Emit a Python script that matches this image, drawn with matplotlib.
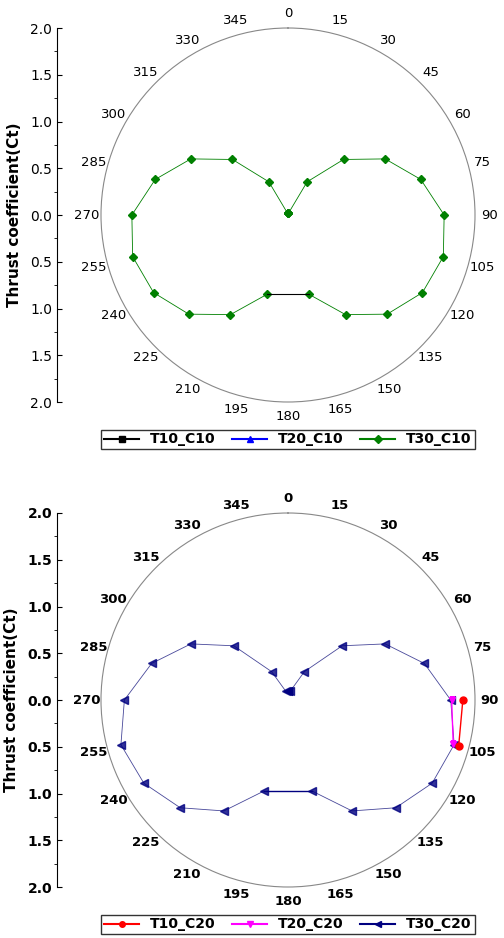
import numpy as np
import matplotlib.pyplot as plt
from matplotlib.ticker import MultipleLocator, FuncFormatter

# angles in degrees, clockwise from top
angles = list(range(0, 360, 15))

# top chart: T30_C10 (180 missing)
t30_c10 = [0.02, 0.02, 0.41, 0.84, 1.20, 1.47, 1.67, 1.72, 1.66, 1.50, 1.23, 0.88,
           np.nan, 0.88, 1.23, 1.50, 1.66, 1.72, 1.67, 1.47, 1.20, 0.84, 0.41, 0.02]

# bottom chart: T30_C20
t30_c20 = [0.10, 0.10, 0.35, 0.82, 1.20, 1.51, 1.74, 1.84, 1.78, 1.63, 1.37, 1.01,
           np.nan, 1.01, 1.37, 1.63, 1.78, 1.85, 1.75, 1.51, 1.20, 0.82, 0.35, 0.10]
t10_c20_ang = [90, 105]
t10_c20 = [1.87, 1.89]
t20_c20_ang = [90, 105]
t20_c20 = [1.75, 1.83]

W, H = 504, 938
fig = plt.figure(figsize=(W / 100, H / 100), dpi=100)


def fr(x0, y0, w, h):
    return [x0 / W, 1 - (y0 + h) / H, w / W, h / H]


def polar_panel(cy, bold):
    ax = fig.add_axes(fr(101, cy - 187, 374, 374), projection='polar')
    ax.set_theta_zero_location('N')
    ax.set_theta_direction(-1)
    ax.set_ylim(0, 2.0)
    ax.set_yticks([])
    ax.set_xticks(np.radians(angles))
    ax.set_xticklabels([str(a) for a in angles], fontsize=9.5,
                       fontweight='bold' if bold else 'normal')
    ax.tick_params(axis='x', pad=0)
    ax.grid(False)
    ax.spines['polar'].set_color('#888888')
    ax.spines['polar'].set_linewidth(0.8)
    # radial axis on the left
    la = fig.add_axes(fr(57, cy - 187, 1, 374))
    la.set_ylim(-2, 2)
    for s in ['top', 'right', 'bottom']:
        la.spines[s].set_visible(False)
    la.set_xticks([])
    la.yaxis.set_major_locator(MultipleLocator(0.5))
    la.yaxis.set_minor_locator(MultipleLocator(0.25))
    la.yaxis.set_major_formatter(FuncFormatter(lambda v, p: f"{abs(v):.1f}"))
    la.tick_params(axis='y', labelsize=10, direction='in')
    if bold:
        for t in la.get_yticklabels():
            t.set_fontweight('bold')
    la.set_ylabel('Thrust coefficient(Ct)', fontsize=11, fontweight='bold', labelpad=6)
    return ax


def closed(a, r):
    a = list(a) + [a[0]]
    r = list(r) + [r[0]]
    return np.radians(a), r


leg_kw = dict(loc='center', ncol=3, frameon=True, fancybox=False, edgecolor='black',
              handlelength=2.5, columnspacing=1.2, borderpad=0.2,
              prop={'weight': 'bold', 'size': 10})

# top
ax1 = polar_panel(215, False)
th, r = closed(angles, t30_c10)
ax1.plot(th, r, color='#008000', lw=0.6, marker='D', ms=4.5)
# line across 180 gap
ax1.plot(np.radians([165, 195]), [0.88, 0.88], color='black', lw=0.8)
ax1.plot([], [], color='black', marker='s', ms=4, label='T10_C10')
ax1.plot([], [], color='blue', marker='^', ms=4, label='T20_C10')
ax1.plot([], [], color='#008000', marker='D', ms=4, label='T30_C10')
ax1.legend(bbox_to_anchor=(0.5, -0.1), **leg_kw)

# bottom
ax2 = polar_panel(700, True)
th, r = closed(angles, t30_c20)
ax2.plot(th, r, color='#1a1a80', lw=0.6, alpha=0.8, marker='<', ms=6, mfc='#000080', mec='#000080')
ax2.plot(np.radians([165, 195]), [1.01, 1.01], color='#000080', lw=1.0)
ax2.plot(np.radians(t20_c20_ang), t20_c20, color='magenta', lw=1, marker='v', ms=5)
ax2.plot(np.radians(t10_c20_ang), t10_c20, color='red', lw=1, marker='o', ms=5)
ax2.plot([], [], color='red', marker='o', ms=4, label='T10_C20')
ax2.plot([], [], color='magenta', marker='v', ms=4, label='T20_C20')
ax2.plot([], [], color='#000080', marker='<', ms=4, label='T30_C20')
ax2.legend(bbox_to_anchor=(0.5, -0.1), **leg_kw)

fig.savefig('out.png', dpi=100)
